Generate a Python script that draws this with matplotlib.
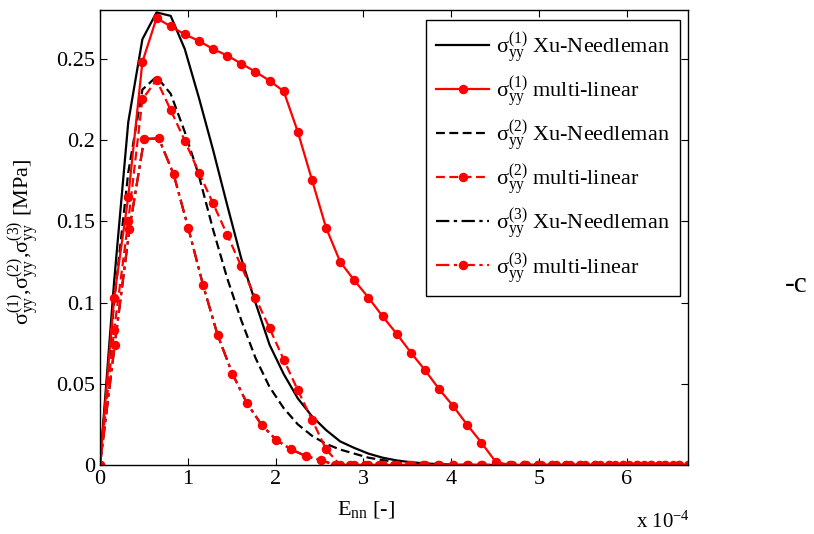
import matplotlib
matplotlib.use("Agg")
import matplotlib.pyplot as plt

plt.rcParams['font.family'] = ['Liberation Serif', 'DejaVu Serif']
plt.rcParams['mathtext.fontset'] = 'custom'
plt.rcParams['mathtext.rm'] = 'Liberation Serif'
plt.rcParams['mathtext.it'] = 'Liberation Serif'
plt.rcParams['mathtext.default'] = 'regular'

# x grids (units of 1e-4)
x12 = [0, 0.161, 0.322, 0.483, 0.644, 0.805, 0.966, 1.127, 1.288, 1.449, 1.61,
       1.771, 1.932, 2.093, 2.254, 2.415, 2.576, 2.737, 2.898, 3.059, 3.22,
       3.381, 3.542, 3.703, 3.864, 4.025, 4.186, 4.347, 4.508, 4.669, 4.83,
       4.991, 5.152, 5.313, 5.474, 5.635, 5.796, 5.957, 6.118, 6.279, 6.44, 6.601]
x3 = [0, 0.168, 0.335, 0.503, 0.670, 0.838, 1.005, 1.173, 1.340, 1.508, 1.675,
      1.843, 2.010, 2.178, 2.345, 2.513, 2.680, 2.848, 3.015, 3.183, 3.350,
      3.518, 3.685, 3.853, 4.020, 4.188, 4.355, 4.523, 4.690, 4.858, 5.025,
      5.193, 5.360, 5.528, 5.695, 5.863, 6.030, 6.198, 6.365, 6.533, 6.700]

xn1 = [0, 0.113, 0.211, 0.262, 0.2785, 0.2764, 0.256, 0.226, 0.194, 0.160, 0.127,
       0.100, 0.074, 0.056, 0.041, 0.030, 0.0215, 0.0145, 0.0105, 0.007, 0.0045,
       0.0028, 0.0017, 0.001, 0.0005, 0.0002, 0, 0, 0, 0, 0,
       0, 0, 0, 0, 0, 0, 0, 0, 0, 0, 0]
ml1 = [0, 0.103, 0.165, 0.248, 0.275, 0.270, 0.265, 0.261, 0.256, 0.252, 0.247,
       0.242, 0.2365, 0.230, 0.205, 0.1755, 0.146, 0.125, 0.1136, 0.103, 0.0915,
       0.0807, 0.0692, 0.0584, 0.0467, 0.0362, 0.0246, 0.0137, 0.002, 0, 0,
       0, 0, 0, 0, 0, 0, 0, 0, 0, 0, 0]
xn2 = [0, 0.10, 0.18, 0.231, 0.239, 0.2285, 0.205, 0.178, 0.145, 0.115, 0.089,
       0.066, 0.048, 0.035, 0.025, 0.018, 0.013, 0.0095, 0.007, 0.0045, 0.003,
       0.002, 0.001, 0.0005, 0, 0, 0, 0, 0, 0, 0,
       0, 0, 0, 0, 0, 0, 0, 0, 0, 0, 0]
ml2 = [0, 0.083, 0.150, 0.225, 0.237, 0.2185, 0.1996, 0.180, 0.161, 0.1417, 0.1222,
       0.103, 0.0842, 0.0649, 0.046, 0.028, 0.0096, 0, 0, 0, 0,
       0, 0, 0, 0, 0, 0, 0, 0, 0, 0,
       0, 0, 0, 0, 0, 0, 0, 0, 0, 0, 0]
xn3 = [0, 0.074, 0.145, 0.2006, 0.201, 0.179, 0.146, 0.111, 0.080, 0.0563, 0.0379,
       0.0246, 0.0154, 0.0096, 0.0055, 0.0031, 0, 0, 0, 0, 0,
       0, 0, 0, 0, 0, 0, 0, 0, 0, 0,
       0, 0, 0, 0, 0, 0, 0, 0, 0, 0]
ml3 = [0, 0.074, 0.145, 0.2006, 0.201, 0.179, 0.146, 0.111, 0.080, 0.0563, 0.0379,
       0.0246, 0.0154, 0.0096, 0.0055, 0.0031, 0, 0, 0, 0, 0,
       0, 0, 0, 0, 0, 0, 0, 0, 0, 0,
       0, 0, 0, 0, 0, 0, 0, 0, 0, 0]

labels = [r'$\sigma_{yy}^{(1)}$ Xu-Needleman', r'$\sigma_{yy}^{(1)}$ multi-linear',
          r'$\sigma_{yy}^{(2)}$ Xu-Needleman', r'$\sigma_{yy}^{(2)}$ multi-linear',
          r'$\sigma_{yy}^{(3)}$ Xu-Needleman', r'$\sigma_{yy}^{(3)}$ multi-linear']
xticks = [0, 1, 2, 3, 4, 5, 6]
yticks = [0, 0.05, 0.1, 0.15, 0.2, 0.25]
ytick_labels = ['0', '0.05', '0.1', '0.15', '0.2', '0.25']

fig = plt.figure(figsize=(8.14, 5.34), dpi=100)
ax = fig.add_axes([100/814, 1-465/534, 588/814, 455/534])

lw = 1.6
ms = 5.8
h = []
h += ax.plot(x12, xn1, color='black', lw=lw, ls='-', label=labels[0])
h += ax.plot(x12, xn2, color='black', lw=lw, ls=(0, (4, 2)), label=labels[2])
h += ax.plot(x3, xn3, color='black', lw=lw, ls=(0, (6, 2, 1.5, 2)), label=labels[4])
h += ax.plot(x12, ml1, color='red', lw=lw, ls='-', marker='o', ms=ms, label=labels[1])
h += ax.plot(x12, ml2, color='red', lw=lw, ls=(0, (4, 2)), marker='o', ms=ms, label=labels[3])
h += ax.plot(x3, ml3, color='red', lw=lw, ls=(0, (6, 2, 1.5, 2)), marker='o', ms=ms, label=labels[5])

order = [0, 3, 1, 4, 2, 5]
leg = ax.legend([h[i] for i in order], [h[i].get_label() for i in order],
                loc='upper right', bbox_to_anchor=(0.986, 0.978), fontsize=16,
                numpoints=1, handlelength=2.4, labelspacing=0.42, borderpad=0.45,
                handletextpad=0.3, fancybox=False, framealpha=1, borderaxespad=0)
leg.get_frame().set_edgecolor('black')
leg.get_frame().set_linewidth(1.0)

ax.set_xlim(0, 6.7)
ax.set_ylim(0, 0.28)
ax.set_xticks(xticks)
ax.set_xticklabels([str(t) for t in xticks])
ax.set_yticks(yticks)
ax.set_yticklabels(ytick_labels)
ax.tick_params(direction='in', top=True, right=True, length=5, labelsize=16, width=0.8)
for s in ax.spines.values():
    s.set_linewidth(1.0)

ax.set_xlabel(r'E$_{nn}$ [-]', fontsize=16)
ax.xaxis.set_label_coords(0.452, -0.075)
ax.set_ylabel(r'$\sigma_{yy}^{(1)}$,$\sigma_{yy}^{(2)}$,$\sigma_{yy}^{(3)}$ [MPa]', fontsize=16)
ax.yaxis.set_label_coords(-0.1, 0.49)

fig.text(636/814, 1-522/534, r'x 10$^{-4}$', fontsize=15, va='center', ha='left')
fig.text(785/814, 1-285/534, '-c', fontsize=21, va='center', ha='left')

fig.savefig('out.png', dpi=100)
